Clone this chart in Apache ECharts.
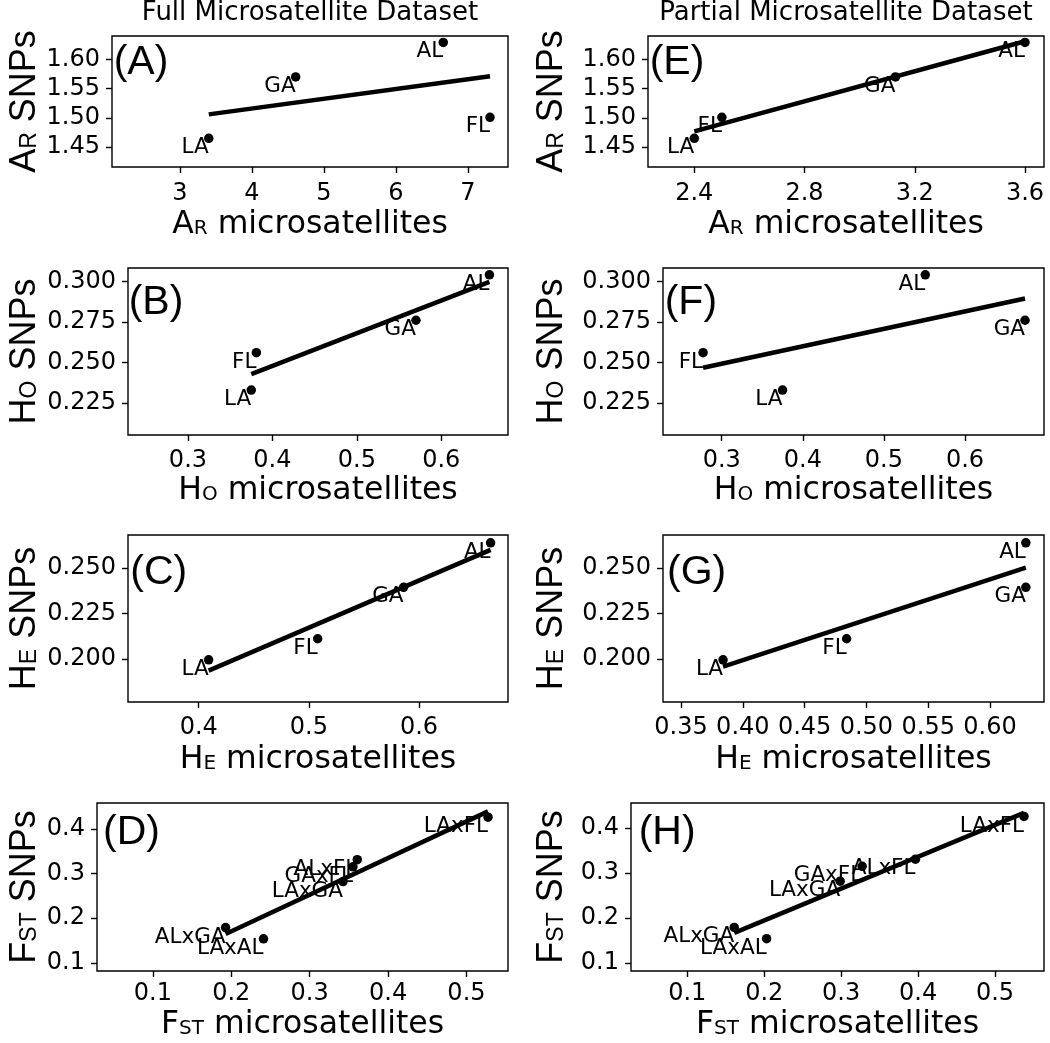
<!DOCTYPE html>
<html>
<head>
<meta charset="utf-8">
<script src="https://cdn.jsdelivr.net/npm/echarts@6/dist/echarts.min.js"></script>
<style>html,body{margin:0;padding:0;background:#fff}#c{width:1050px;height:1043px}</style>
</head>
<body>
<div id="c"></div>
<script>
// ---------- data ----------
const populations = ['LA', 'GA', 'AL', 'FL'];
const pairs = ['LAxFL', 'ALxFL', 'GAxFL', 'LAxGA', 'ALxGA', 'LAxAL'];

// SNP estimates (y values), same for both datasets
const arSnps = [1.465, 1.570, 1.629, 1.501];
const hoSnps = [0.233, 0.276, 0.304, 0.256];
const heSnps = [0.1996, 0.2395, 0.264, 0.2112];
const fstSnps = [0.426, 0.331, 0.315, 0.282, 0.179, 0.154];

// Full microsatellite dataset (x values)
const arMsatFull = [3.40, 4.607, 6.657, 7.306];
const hoMsatFull = [0.375, 0.570, 0.657, 0.381];
const heMsatFull = [0.409, 0.586, 0.665, 0.508];
const fstMsatFull = [0.5275, 0.3607, 0.3552, 0.3425, 0.1927, 0.2411];

// Partial microsatellite dataset (x values)
const arMsatPart = [2.40, 3.13, 3.60, 2.50];
const hoMsatPart = [0.375, 0.674, 0.551, 0.277];
const heMsatPart = [0.384, 0.629, 0.629, 0.484];
const fstMsatPart = [0.5377, 0.3966, 0.3273, 0.2987, 0.161, 0.2031];

// Fitted line values at the smallest and largest x
const fitArFull = [1.506, 1.571];
const fitHoFull = [0.2428, 0.2996];
const fitHeFull = [0.1937, 0.2601];
const fitFstFull = [0.1648, 0.4388];
const fitArPart = [1.477, 1.631];
const fitHoPart = [0.2467, 0.2894];
const fitHePart = [0.1959, 0.2503];
const fitFstPart = [0.1667, 0.434];

// Tick labels
const ticksArFullX = [3, 4, 5, 6, 7];
const ticksArPartX = [2.4, 2.8, 3.2, 3.6];
const ticksArY = [1.45, 1.50, 1.55, 1.60];
const ticksHoX = [0.3, 0.4, 0.5, 0.6];
const ticksHoY = [0.225, 0.250, 0.275, 0.300];
const ticksHeFullX = [0.4, 0.5, 0.6];
const ticksHePartX = [0.35, 0.40, 0.45, 0.50, 0.55, 0.60];
const ticksHeY = [0.200, 0.225, 0.250];
const ticksFstX = [0.1, 0.2, 0.3, 0.4, 0.5];
const ticksFstY = [0.1, 0.2, 0.3, 0.4];

const columnTitles = ['Full Microsatellite Dataset', 'Partial Microsatellite Dataset'];

// ---------- layout ----------
const WIDE = '"DejaVu Sans", Verdana, sans-serif';
const ARIAL = '"Liberation Sans", Arial, Helvetica, sans-serif';
const stats = {
  AR: ['A', 'R'], HO: ['H', 'O'], HE: ['H', 'E'], FST: ['F', 'ST']
};
const panels = [
  {lab:'(A)', grid:{left:112,top:36,width:396,height:131}, x:arMsatFull, y:arSnps, names:populations, fit:fitArFull,
   xr:[2.056,7.556], yr:[1.416,1.640], xt:ticksArFullX, yt:ticksArY, xd:0, yd:2, stat:'AR', lp:[113.7,41.7], xGap:41.4, yGap:66.5, xm:15},
  {lab:'(B)', grid:{left:128,top:268,width:380,height:167}, x:hoMsatFull, y:hoSnps, names:populations, fit:fitHoFull,
   xr:[0.229,0.679], yr:[0.2053,0.3082], xt:ticksHoX, yt:ticksHoY, xd:1, yd:3, stat:'HO', lp:[128.7,281.7], xGap:40.1, yGap:82.5, xm:14},
  {lab:'(C)', grid:{left:128,top:535,width:380,height:167}, x:heMsatFull, y:heSnps, names:populations, fit:fitHeFull,
   xr:[0.3358,0.6808], yr:[0.1764,0.2683], xt:ticksHeFullX, yt:ticksHeY, xd:1, yd:3, stat:'HE', lp:[130.3,551.7], xGap:41.4, yGap:82.5, xm:14},
  {lab:'(D)', grid:{left:97,top:803,width:411,height:168}, x:fstMsatFull, y:fstSnps, names:pairs, fit:fitFstFull,
   xr:[0.0287,0.553], yr:[0.082,0.4576], xt:ticksFstX, yt:ticksFstY, xd:1, yd:1, stat:'FST', lp:[103,811.7], xGap:37.4, yGap:51.5, xm:11},
  {lab:'(E)', grid:{left:648,top:36,width:396,height:131}, x:arMsatPart, y:arSnps, names:populations, fit:fitArPart,
   xr:[2.232,3.669], yr:[1.416,1.640], xt:ticksArPartX, yt:ticksArY, xd:1, yd:2, stat:'AR', lp:[649.7,41.7], xGap:41.4, yGap:77.5, xm:15},
  {lab:'(F)', grid:{left:663,top:268,width:381,height:167}, x:hoMsatPart, y:hoSnps, names:populations, fit:fitHoPart,
   xr:[0.2276,0.6974], yr:[0.2053,0.3082], xt:ticksHoX, yt:ticksHoY, xd:1, yd:3, stat:'HO', lp:[664.7,281.7], xGap:40.1, yGap:92.5, xm:14},
  {lab:'(G)', grid:{left:663,top:535,width:381,height:167}, x:heMsatPart, y:heSnps, names:populations, fit:fitHePart,
   xr:[0.3354,0.6437], yr:[0.1764,0.2683], xt:ticksHePartX, yt:ticksHeY, xd:2, yd:3, stat:'HE', lp:[667,551.7], xGap:41.4, yGap:92.5, xm:14},
  {lab:'(H)', grid:{left:631,top:803,width:413,height:168}, x:fstMsatPart, y:fstSnps, names:pairs, fit:fitFstPart,
   xr:[0.0268,0.5637], yr:[0.082,0.456], xt:ticksFstX, yt:ticksFstY, xd:1, yd:1, stat:'FST', lp:[638.7,811.7], xGap:37.4, yGap:60.5, xm:11}
];

function richName(stat, rest) {
  const s = stats[stat];
  return '{b|' + s[0] + '}{s|' + s[1] + '}{b|' + rest + '}';
}
const xRich = {
  b: {fontSize: 31.5, fontFamily: WIDE, color: '#000', verticalAlign: 'bottom'},
  s: {fontSize: 20, fontFamily: WIDE, color: '#000', verticalAlign: 'bottom', padding: [0, 0, 2, 0]}
};
const yRich = {
  b: {fontSize: 36, fontFamily: ARIAL, color: '#000', verticalAlign: 'bottom'},
  s: {fontSize: 23, fontFamily: ARIAL, color: '#000', verticalAlign: 'bottom', padding: [0, 0, 2, 0]}
};

const grids = [], xAxes = [], yAxes = [], series = [], graphics = [];
panels.forEach((p, i) => {
  grids.push(Object.assign({show: true, borderColor: '#000', borderWidth: 1.4, backgroundColor: 'transparent', containLabel: false}, p.grid));
  const tick = {show: true, length: 6, lineStyle: {color: '#000', width: 1.4}};
  xAxes.push({
    type: 'value', gridIndex: i, min: p.xr[0], max: p.xr[1],
    axisLine: {show: false}, splitLine: {show: false},
    axisTick: Object.assign({customValues: p.xt}, tick),
    axisLabel: {customValues: p.xt, formatter: v => Number(v).toFixed(p.xd), fontSize: 24, color: '#000', fontFamily: WIDE, margin: p.xm},
    name: richName(p.stat, ' microsatellites'), nameLocation: 'middle', nameGap: p.xGap,
    nameTextStyle: {rich: xRich}
  });
  yAxes.push({
    type: 'value', gridIndex: i, min: p.yr[0], max: p.yr[1],
    axisLine: {show: false}, splitLine: {show: false},
    axisTick: Object.assign({customValues: p.yt}, tick),
    axisLabel: {customValues: p.yt, formatter: v => Number(v).toFixed(p.yd), fontSize: 24, color: '#000', fontFamily: WIDE, margin: 12},
    name: richName(p.stat, ' SNPs'), nameLocation: 'middle', nameGap: p.yGap, nameRotate: 90,
    nameTextStyle: {rich: yRich}
  });
  const xmin = Math.min.apply(null, p.x), xmax = Math.max.apply(null, p.x);
  series.push({
    type: 'line', xAxisIndex: i, yAxisIndex: i, z: 2,
    data: [[xmin, p.fit[0]], [xmax, p.fit[1]]],
    showSymbol: false, symbol: 'none', silent: true,
    lineStyle: {color: '#000', width: 4.5, cap: 'butt'}
  });
  series.push({
    type: 'scatter', xAxisIndex: i, yAxisIndex: i, z: 3,
    symbol: 'circle', symbolSize: 9.5, itemStyle: {color: '#000', opacity: 1},
    data: p.x.map((xv, k) => ({name: p.names[k], value: [xv, p.y[k]]})),
    label: {show: true, formatter: '{b}', position: [4.75, 3.2], align: 'right', verticalAlign: 'top',
            fontSize: 21.5, color: '#000', fontFamily: WIDE}
  });
  graphics.push({type: 'text', x: p.lp[0], y: p.lp[1], z: 10,
    style: {text: p.lab, fontSize: 41, fontFamily: ARIAL, fill: '#000', align: 'left', verticalAlign: 'top'}});
});
graphics.push({type: 'text', x: 310, y: 0.7, style: {text: columnTitles[0], fontSize: 26, fontFamily: WIDE, fill: '#000', align: 'center', verticalAlign: 'top'}});
graphics.push({type: 'text', x: 846, y: 0.7, style: {text: columnTitles[1], fontSize: 26, fontFamily: WIDE, fill: '#000', align: 'center', verticalAlign: 'top'}});

const chart = echarts.init(document.getElementById('c'), null, {renderer: 'canvas', width: 1050, height: 1043});
chart.setOption({
  backgroundColor: '#fff',
  animation: false,
  grid: grids, xAxis: xAxes, yAxis: yAxes, series: series,
  graphic: {elements: graphics}
});
</script>
</body>
</html>
